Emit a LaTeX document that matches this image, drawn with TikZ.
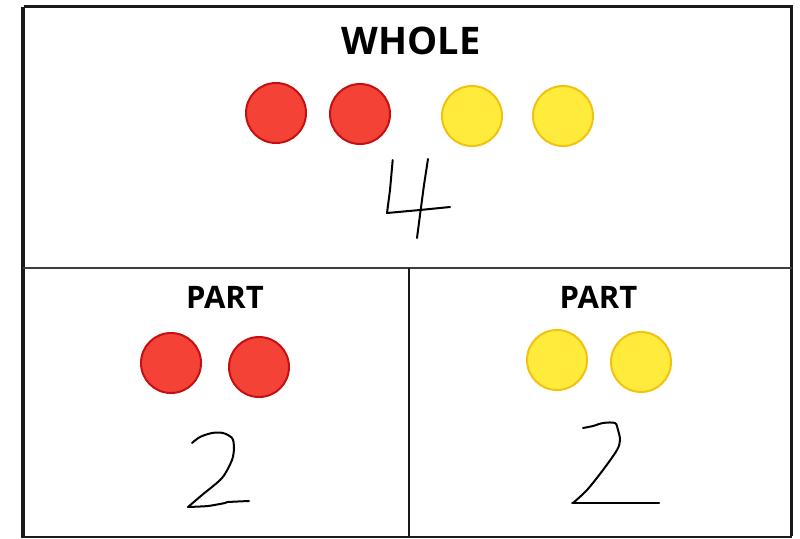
\documentclass[tikz,border=0pt]{standalone}
\usepackage{fontspec}
\setmainfont{Open Sans}
\definecolor{redfill}{HTML}{F44336}
\definecolor{redline}{HTML}{C41010}
\definecolor{yelfill}{HTML}{FFEB3B}
\definecolor{yelline}{HTML}{F2C20F}
\definecolor{frame}{HTML}{1A1A1A}
\begin{document}
\begin{tikzpicture}[x=1pt,y=-1pt,
  counter/.style={circle,minimum size=60pt,inner sep=0pt,line width=2pt},
  redc/.style={counter,fill=redfill,draw=redline},
  yelc/.style={counter,fill=yelfill,draw=yelline},
  title/.style={anchor=base,inner sep=0pt,font=\bfseries\fontsize{38}{40}\selectfont},
  parttitle/.style={anchor=base,inner sep=0pt,font=\bfseries\fontsize{31}{33}\selectfont},
  hand/.style={line width=2pt,line cap=round,line join=round,black}]
\useasboundingbox (0,0) rectangle (800,538);
\fill[white] (0,0) rectangle (800,538);
% frame
\draw[frame,line width=3pt] (23.5,6.5) -- (791.5,6.5) -- (791.5,536);
\draw[frame,line width=4pt] (23,6.5) -- (23,538);
\draw[frame,line width=2pt] (23,536.5) -- (791.5,536.5);
\draw[frame!85,line width=2pt] (23,267.5) -- (791.5,267.5);
\draw[frame,line width=2pt] (408.5,267.5) -- (408.5,536.5);
% whole
\node[title] (whole) at (411,54) {WHOLE};
\node[redc] (w1) at (276,113) {};
\node[redc] (w2) at (360,114) {};
\node[yelc] (w3) at (472,116) {};
\node[yelc] (w4) at (563,116) {};
% four
\draw[hand] (392.7,160) -- (390,190) -- (387,213) -- (420,210) -- (450,207);
\draw[hand] (428,159) -- (424,185) -- (420,215) -- (417,238);
% left part
\node[parttitle] (partL) at (225,308) {PART};
\node[redc] (l1) at (171,363) {};
\node[redc] (l2) at (259,367) {};
\draw[hand] plot[smooth,tension=0.5] coordinates {(192,443) (200,437) (212,433) (223,433) (232,438) (234,447) (232,460) (222,478) (202,495) (188,507)};
\draw[hand] plot[smooth,tension=0.4] coordinates {(188,507) (208,506) (225,503) (228,502) (249,501)};
% right part
\node[parttitle] (partR) at (598.5,308) {PART};
\node[yelc] (r1) at (557,360) {};
\node[yelc] (r2) at (641,362) {};
\draw[hand] plot[smooth,tension=0.5] coordinates {(583,428) (593,426) (603,423) (615,423) (618,430) (620,440) (617,450) (603,470) (587,490) (573,503)};
\draw[hand] (572,503) -- (659,503);
\end{tikzpicture}
\end{document}
